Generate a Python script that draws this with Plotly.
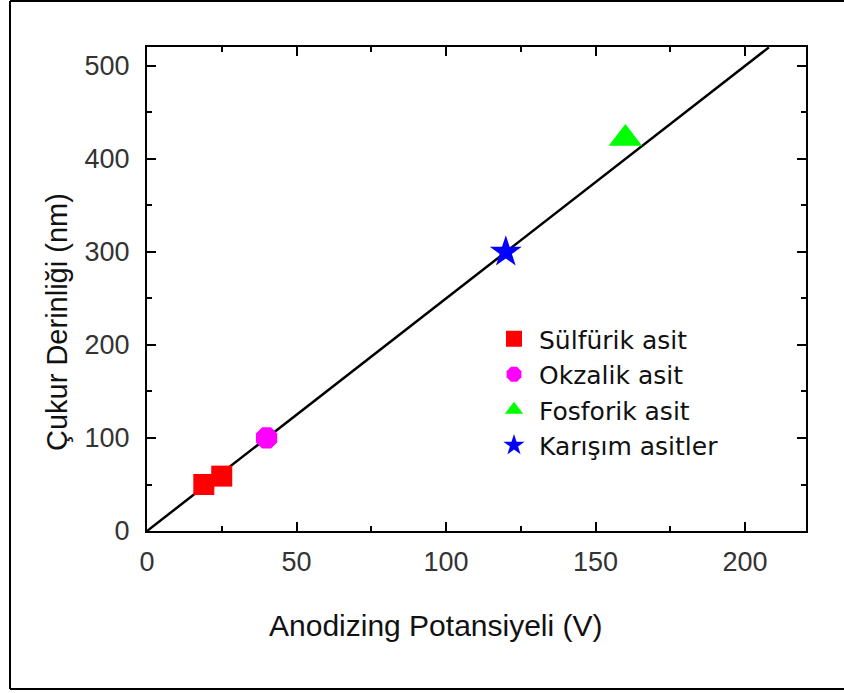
import plotly.graph_objects as go

# Data
sulfurik_x = [19, 25]
sulfurik_y = [50, 59]
okzalik_x = [40]
okzalik_y = [100]
fosforik_x = [160]
fosforik_y = [422]
karisim_x = [120]
karisim_y = [300]
fit_x = [0, 208]
fit_y = [0, 520]

L, R, T, B = 147, 806, 47, 531
W, H = 844, 693


def px(xp):
    return (xp - L) / (R - L)


def py(yp):
    return (B - yp) / (B - T)


fig = go.Figure()
fig.add_trace(go.Scatter(x=fit_x, y=fit_y, mode="lines", line=dict(color="black", width=2.5),
                         showlegend=False, hoverinfo="skip"))
fig.add_trace(go.Scatter(x=sulfurik_x, y=sulfurik_y, mode="markers", name="Sülfürik asit",
                         marker=dict(symbol="square", size=21, color="#ff0000")))
fig.add_trace(go.Scatter(x=okzalik_x, y=okzalik_y, mode="markers", name="Okzalik asit",
                         marker=dict(symbol="octagon", size=23, color="#ff00ff")))
fig.add_trace(go.Scatter(x=fosforik_x, y=fosforik_y, mode="markers", name="Fosforik asit",
                         marker=dict(symbol="triangle-up", size=29, color="#00ff00")))
fig.add_trace(go.Scatter(x=karisim_x, y=karisim_y, mode="markers", name="Karışım asitler",
                         marker=dict(symbol="star", size=24, color="#0000ff")))

tickfont = dict(family="Liberation Sans, Arial", size=27, color="#333333")
axis_common = dict(showline=True, linecolor="black", linewidth=2, mirror="ticks",
                   ticks="inside", ticklen=9, tickwidth=2, tickcolor="black",
                   showgrid=False, zeroline=False, tickfont=tickfont)

fig.update_xaxes(range=[0, 220.4], tickvals=[0, 50, 100, 150, 200], ticklabelstandoff=6,
                 minor=dict(tickvals=[25, 75, 125, 175], ticks="inside", ticklen=5,
                            tickwidth=2, tickcolor="black"),
                 **axis_common)
fig.update_yaxes(range=[0, 520.4], tickvals=[0, 100, 200, 300, 400, 500], ticklabelstandoff=10,
                 minor=dict(tickvals=[50, 150, 250, 350, 450], ticks="inside", ticklen=5,
                            tickwidth=2, tickcolor="black"),
                 **axis_common)

fig.update_layout(
    width=W, height=H,
    margin=dict(l=L, r=W - R, t=T, b=H - B),
    paper_bgcolor="white", plot_bgcolor="white",
    legend=dict(x=px(489), y=py(316), xanchor="left", yanchor="top",
                font=dict(family="DejaVu Sans", size=25, color="#111111"),
                bgcolor="rgba(0,0,0,0)", itemwidth=40, tracegroupgap=0),
    annotations=[
        dict(text="Anodizing Potansiyeli (V)", x=px(436), y=py(625), xref="paper", yref="paper",
             xanchor="center", yanchor="middle",
             showarrow=False, font=dict(family="Liberation Sans, Arial", size=30, color="#111111")),
        dict(text="Çukur Derinliği (nm)", x=px(57), y=py(322), xref="paper", yref="paper",
             xanchor="center", yanchor="middle",
             showarrow=False, textangle=-90,
             font=dict(family="Liberation Sans, Arial", size=29, color="#111111")),
    ],
    shapes=[
        dict(type="line", xref="paper", yref="paper", x0=px(10), x1=px(10), y0=py(1), y1=py(689),
             line=dict(color="black", width=2)),
        dict(type="line", xref="paper", yref="paper", x0=px(10), x1=px(850), y0=py(1), y1=py(1),
             line=dict(color="black", width=2)),
        dict(type="line", xref="paper", yref="paper", x0=px(10), x1=px(850), y0=py(689), y1=py(689),
             line=dict(color="black", width=2)),
    ],
)

fig.write_html("out.html", config={"displayModeBar": False},
               post_script="document.body.style.margin='0';document.body.style.overflow='hidden';")
